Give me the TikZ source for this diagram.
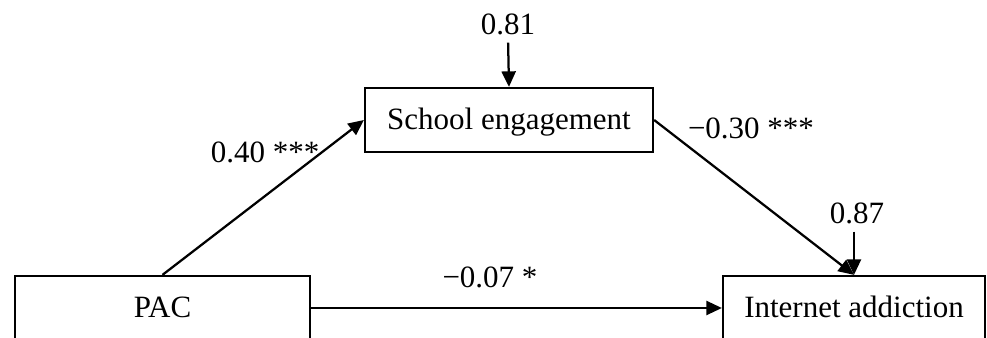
\documentclass[tikz,border=0pt]{standalone}
\usepackage{fontspec}
\setmainfont{Liberation Serif}
\usetikzlibrary{arrows.meta}
\tikzset{
    var/.style={draw,line width=0.9pt,minimum height=25.6pt,inner sep=0pt,text height=8pt,text depth=0pt},
    path/.style={line width=0.9pt,-{Triangle[length=6.2pt,width=5.6pt]}},
    coef/.style={inner sep=1pt}
}
\begin{document}
\begin{tikzpicture}[x=0.4pt,y=-0.4pt,font=\fontsize{12.4}{14}\selectfont]
    \clip (0,0) rectangle (987,338);
    %% variables
    \node[var,minimum width=118pt] (pac) at (162.5,308) {PAC};
    \node[var,minimum width=115.2pt] (school) at (509,120) {School engagement};
    \node[var,minimum width=104.8pt] (internet) at (854,308) {Internet addiction};
    %% residuals
    \node[coef] (res1) at (508,24) {0.81};
    \node[coef] (res2) at (857,213) {0.87};
    \draw[path,shorten <=2pt] (res1.south) -- (school.north);
    \draw[path,shorten <=2pt] (res2.south -| internet.north) -- (internet.north);
    %% paths
    \draw[path] (pac.north) -- (school.west);
    \draw[path] (school.east) -- (internet.north);
    \draw[path] (pac.east) -- (internet.west);
    \node[coef] (a) at (265,152) {0.40 ***};
    \node[coef] (b) at (751,128) {−0.30 ***};
    \node[coef] (c) at (490,277) {−0.07 *};
\end{tikzpicture}
\end{document}
